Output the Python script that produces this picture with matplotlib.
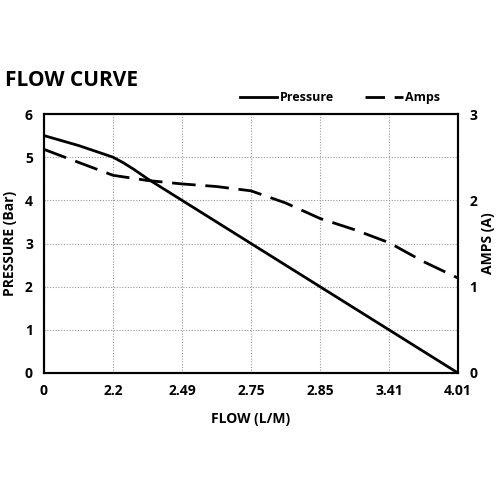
import matplotlib
matplotlib.use("Agg")
import matplotlib.pyplot as plt
from matplotlib.lines import Line2D

flow_labels = ["0", "2.2", "2.49", "2.75", "2.85", "3.41", "4.01"]
pressure_pos = [0, 0.5, 1, 1.15, 1.3, 1.5, 2, 3, 4, 5, 6]
pressure = [5.5, 5.27, 5.0, 4.87, 4.72, 4.5, 4.0, 3.0, 2.0, 1.0, 0.0]
amps_pos = [0, 0.5, 1, 1.5, 2, 2.5, 3, 3.5, 4, 4.5, 5, 5.5, 6]
amps = [2.59, 2.44, 2.29, 2.23, 2.19, 2.16, 2.11, 1.97, 1.79, 1.66, 1.51, 1.29, 1.10]

plt.rcParams['font.family'] = ['Open Sans', 'DejaVu Sans']
plt.rcParams['font.weight'] = 'bold'

fig = plt.figure(figsize=(5, 5), dpi=100)
ax = fig.add_axes([0.088, 0.254, 0.828, 0.518])
ax2 = ax.twinx()

l1, = ax.plot(pressure_pos, pressure, color='black', lw=2, label='Pressure')
l2, = ax2.plot(amps_pos, amps, color='black', lw=2, dashes=(8.5, 3.5), label='Amps')
leg_amps = Line2D([], [], color='black', lw=2, dashes=(7, 3.5), label='Amps')

ax.set_xlim(0, 6)
ax.set_ylim(0, 6)
ax2.set_ylim(0, 3)
ax.set_xticks(range(7))
ax.set_xticklabels(flow_labels)
ax.set_yticks(range(7))
ax2.set_yticks(range(4))
ax.grid(True, color='#999999', linestyle=(0, (1, 1.5)), lw=0.8)
for a in (ax, ax2):
    a.tick_params(length=0, labelsize=10, pad=8)
    for s in a.spines.values():
        s.set_linewidth(1.5)
for lab in ax.get_xticklabels() + ax.get_yticklabels() + ax2.get_yticklabels():
    lab.set_fontweight('bold')

ax.set_xlabel('FLOW (L/M)', fontsize=10, fontweight='bold', labelpad=10)
ax.set_ylabel('PRESSURE (Bar)', fontsize=10, fontweight='bold', labelpad=6)
ax2.set_ylabel('AMPS (A)', fontsize=10, fontweight='bold', labelpad=3)

fig.text(0.01, 0.84, 'FLOW CURVE', fontsize=15, fontweight='bold', ha='left', va='center')
fig.legend(handles=[l1, leg_amps], loc='center', bbox_to_anchor=(0.68, 0.805), ncol=2,
           frameon=False, handlelength=3, columnspacing=2.5, handletextpad=0.2,
           prop={'weight': 'bold', 'size': 9})

fig.savefig('out.png', dpi=100)
